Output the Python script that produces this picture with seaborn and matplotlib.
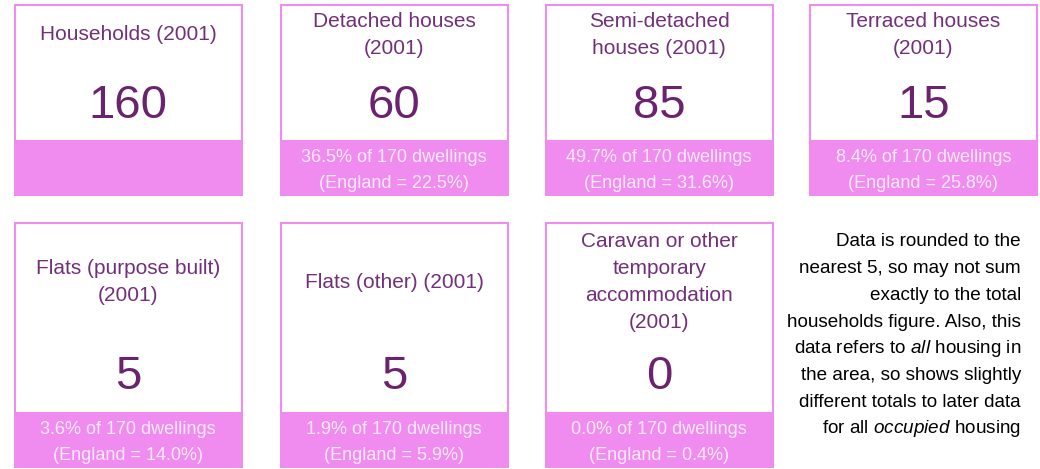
import matplotlib
matplotlib.use("Agg")
import matplotlib.pyplot as plt
from matplotlib.patches import Rectangle
import seaborn as sns

# card contents, left to right, top to bottom
titles = [
    "Households (2001)",
    "Detached houses\n(2001)",
    "Semi-detached\nhouses (2001)",
    "Terraced houses\n(2001)",
    "Flats (purpose built)\n(2001)",
    "Flats (other) (2001)",
    "Caravan or other\ntemporary\naccommodation\n(2001)",
]
values = [160, 60, 85, 15, 5, 5, 0]
pct_of_dwellings = [None, 36.5, 49.7, 8.4, 3.6, 1.9, 0.0]
england_pct = [None, 22.5, 31.6, 25.8, 14.0, 5.9, 0.4]
total_dwellings = 170

note_lines = [
    "Data is rounded to the",
    "nearest 5, so may not sum",
    "exactly to the total",
    "households figure. Also, this",
    r"data refers to $\mathit{all}$ housing in",
    "the area, so shows slightly",
    "different totals to later data",
    r"for all $\mathit{occupied}$ housing",
]

PINK = "#f08cf0"
PURPLE = "#6b2370"
TITLE_PURPLE = "#73307a"
FOOT_TXT = "#fdeafd"

sns.set_theme(style="white")
plt.rcParams["font.family"] = ["Liberation Sans", "DejaVu Sans"]
plt.rcParams["mathtext.fontset"] = "custom"
plt.rcParams["mathtext.rm"] = "Liberation Sans"
plt.rcParams["mathtext.it"] = "Liberation Sans:italic"

W, H = 1040, 469
fig = plt.figure(figsize=(W / 100, H / 100), dpi=100)
ax = fig.add_axes([0, 0, 1, 1])
ax.set_xlim(0, W)
ax.set_ylim(H, 0)
ax.axis("off")

col_x = [14, 280, 545, 809]
card_w = 228.5
# (top, footer top, bottom, title centre, number centre) per row
rows = [(4, 141, 196, 35, 106), (222, 413, 468, 282, 377)]

for i, title in enumerate(titles):
    r, c = divmod(i, 4)
    top, ftop, bot, ty, ny = rows[r]
    x0 = col_x[c]
    cx = x0 + card_w / 2

    ax.add_patch(Rectangle((x0 + 1, top + 1), card_w - 2, ftop - top - 1,
                           facecolor="white", edgecolor=PINK, lw=1.5))
    ax.add_patch(Rectangle((x0, ftop), card_w, bot - ftop,
                           facecolor=PINK, edgecolor="none"))

    lines = title.split("\n")
    step = 27
    y_first = ty - step * (len(lines) - 1) / 2
    for k, line in enumerate(lines):
        ax.text(cx, y_first + k * step, line, ha="center", va="center",
                fontsize=15, color=TITLE_PURPLE)

    ax.text(cx, ny, str(values[i]), ha="center", va="center",
            fontsize=34, color=PURPLE)

    if pct_of_dwellings[i] is not None:
        fy = (ftop + bot) / 2 + 2.5
        ax.text(cx, fy - 13, f"{pct_of_dwellings[i]:.1f}% of {total_dwellings} dwellings",
                ha="center", va="center", fontsize=13, color=FOOT_TXT)
        ax.text(cx, fy + 13, f"(England = {england_pct[i]:.1f}%)",
                ha="center", va="center", fontsize=13, color=FOOT_TXT)

for k, line in enumerate(note_lines):
    ax.text(1021, 242 + 26.7 * k, line, ha="right", va="center",
            fontsize=13.6, color="black")

fig.savefig("out.png", dpi=100)
